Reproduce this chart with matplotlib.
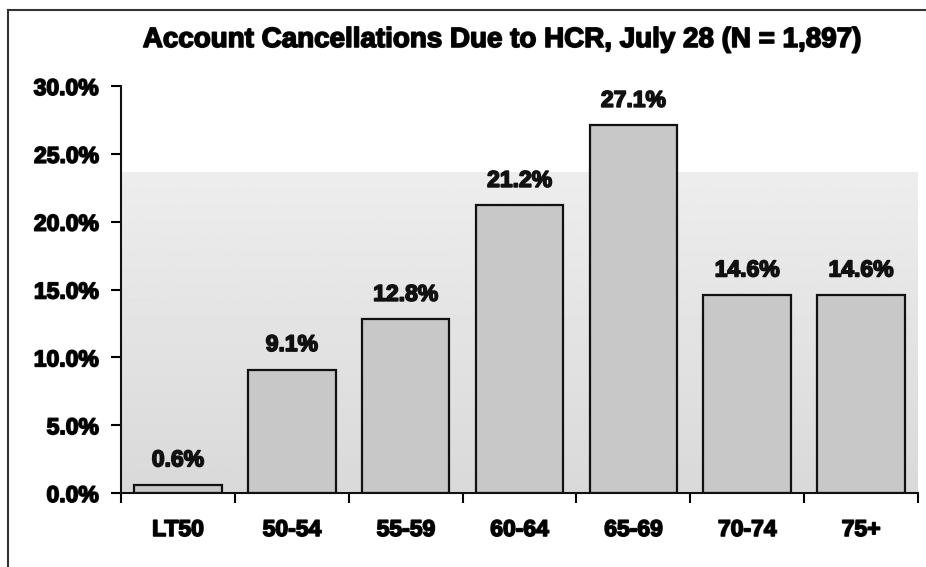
import matplotlib
matplotlib.use("Agg")
import matplotlib.pyplot as plt
import matplotlib.patheffects as pe
import numpy as np
from matplotlib.lines import Line2D

categories = ["LT50", "50-54", "55-59", "60-64", "65-69", "70-74", "75+"]
values = [0.6, 9.1, 12.8, 21.2, 27.1, 14.6, 14.6]
yticks = [0, 5, 10, 15, 20, 25, 30]
title = "Account Cancellations Due to HCR, July 28 (N = 1,897)"

plt.rcParams['font.family'] = ['Liberation Sans', 'DejaVu Sans']
plt.rcParams['font.weight'] = 'bold'

heavy = [pe.withStroke(linewidth=1.2, foreground='#111111')]

W, H = 926, 567
fig = plt.figure(figsize=(W / 100, H / 100), dpi=100)
ax = fig.add_axes([121 / W, (H - 493) / H, (918 - 121) / W, (493 - 86) / H])

x = np.arange(len(categories))
ax.set_xlim(-0.5, len(categories) - 0.5)
ax.set_ylim(0, 30)

# graded background band
grad = np.linspace(0.85, 0.93, 256).reshape(-1, 1)
ax.imshow(grad, extent=(-0.5, len(categories) - 0.5, 0, 23.6), origin='lower',
          cmap='gray', vmin=0, vmax=1, aspect='auto', zorder=0)

ax.bar(x, values, width=0.77, color='#c8c8c8', edgecolor='#111111', linewidth=1.6, zorder=2)
for xi, v in zip(x, values):
    ax.annotate(f"{v:.1f}%", (xi, v), xytext=(0, 18), textcoords='offset points',
                ha='center', va='center', fontsize=16.5, fontweight='bold', color='#111111',
                path_effects=heavy)

ax.set_yticks(yticks)
ax.set_yticklabels([f"{t:.1f}%" for t in yticks], fontsize=16.5, fontweight='bold')
ax.set_xticks(x)
ax.set_xticklabels(categories, fontsize=16.5, fontweight='bold')
for lab in ax.get_xticklabels() + ax.get_yticklabels():
    lab.set_path_effects(heavy)
ax.tick_params(axis='x', length=0, pad=18)
ax.set_xticks(np.arange(-0.5, len(categories), 1.0), minor=True)
ax.tick_params(axis='x', which='minor', length=7, width=1.5, direction='out')
ax.tick_params(axis='y', length=7, width=1.5, direction='out', pad=9)

for s in ['top', 'right']:
    ax.spines[s].set_visible(False)
for s in ['left', 'bottom']:
    ax.spines[s].set_linewidth(1.5)
    ax.spines[s].set_color('#111111')

fig.text(502 / W, 1 - 40 / H, title, ha='center', va='center', fontsize=20,
         fontweight='bold', path_effects=heavy)

# outer frame
fig.add_artist(Line2D([8 / W, 8 / W], [0, 1 - 10 / H], transform=fig.transFigure, color='#333333', lw=1.5))
fig.add_artist(Line2D([8 / W, 1], [1 - 10 / H, 1 - 10 / H], transform=fig.transFigure, color='#333333', lw=1.5))

fig.savefig("out.png", dpi=100)
